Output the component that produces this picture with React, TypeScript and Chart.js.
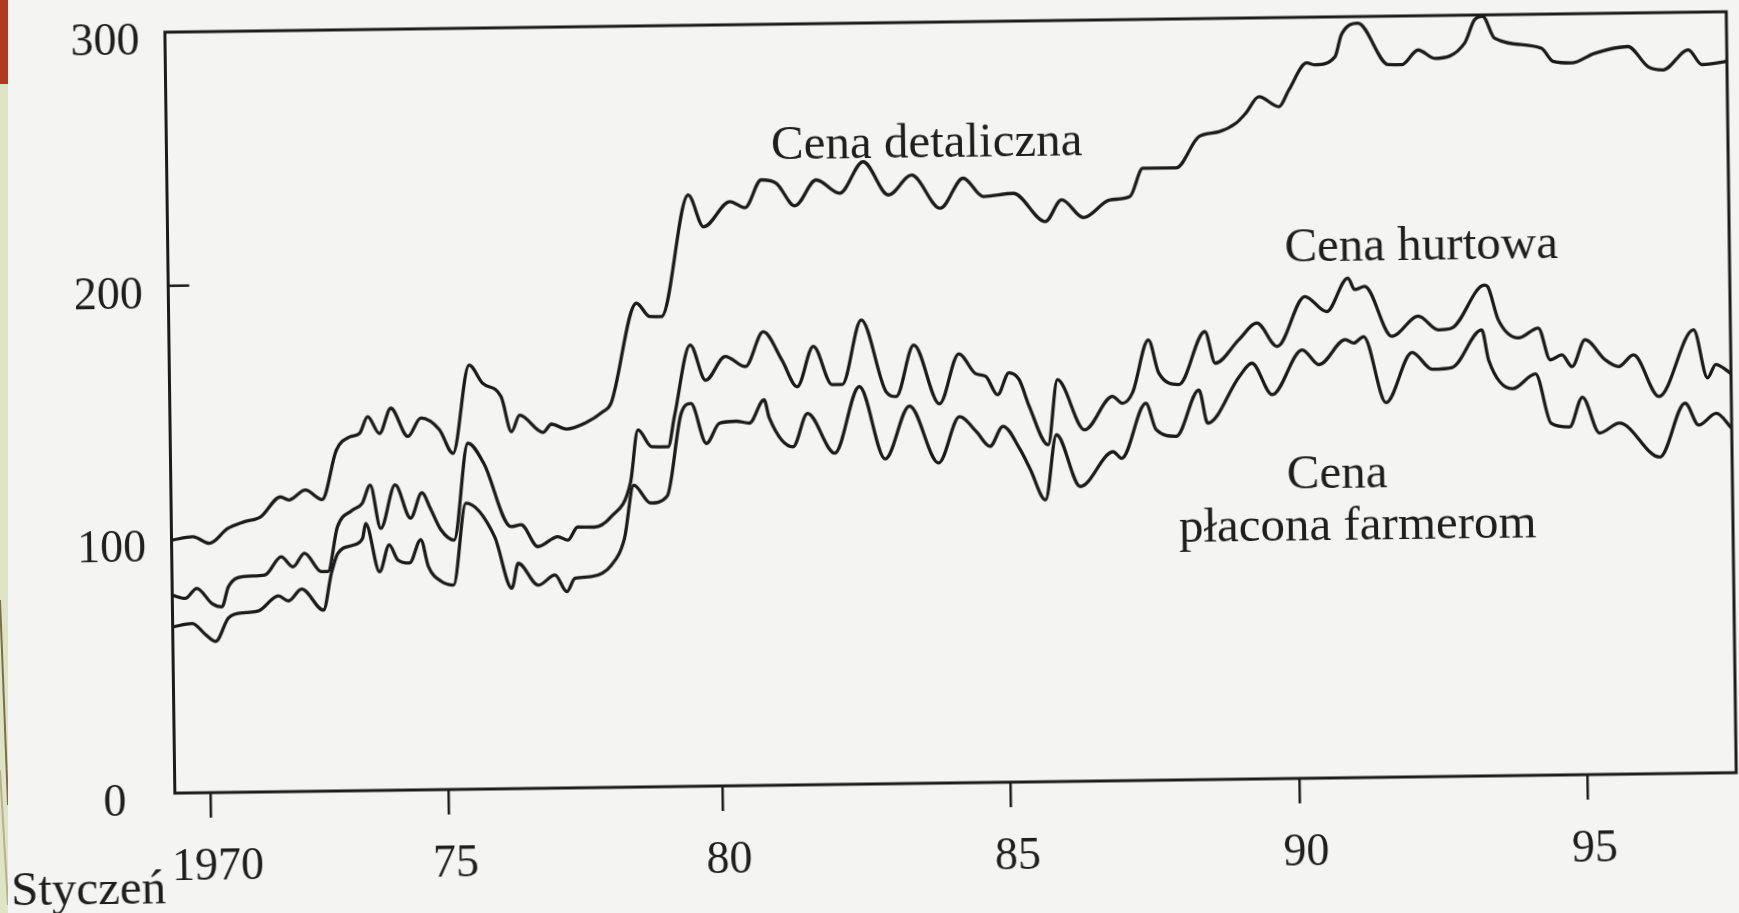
import React, { useEffect, useRef } from 'react';
import { Chart, registerables } from 'chart.js';

Chart.register(...registerables);

// ---- Data ----
const retailYears = [
  1969.70, 1970.08, 1970.38, 1970.71, 1971.01, 1971.31, 1971.67, 1971.82, 1972.12, 1972.42,
  1972.69, 1972.93, 1973.11, 1973.26, 1973.47, 1973.68, 1973.98, 1974.22, 1974.55, 1974.79,
  1975.10, 1975.34, 1975.67, 1975.85, 1976.00, 1976.42, 1976.57, 1976.84, 1977.20, 1977.50,
  1977.65, 1978.13, 1978.37, 1978.58, 1979.09, 1979.36, 1979.84, 1980.11, 1980.41, 1980.68,
  1981.01, 1981.40, 1981.82, 1982.25, 1982.70, 1983.12, 1983.63, 1984.05, 1984.41, 1984.95,
  1985.52, 1985.82, 1986.21, 1986.69, 1987.05, 1987.29, 1987.89, 1988.31, 1988.67, 1988.98,
  1989.16, 1989.40, 1989.76, 1989.94, 1990.27, 1990.42, 1990.78, 1990.90, 1991.20, 1991.74,
  1991.98, 1992.28, 1992.58, 1993.12, 1993.30, 1993.45, 1993.66, 1994.50, 1994.71, 1995.04,
  1995.46, 1996.06, 1996.42, 1996.69, 1997.15, 1997.39, 1997.84,
];
const retailValues = [
  99.7, 101, 98.3, 104, 106.6, 108.5, 116.2, 115, 118.8, 115,
  134.4, 139.5, 140.8, 147.4, 140.7, 150.6, 139.4, 146.6, 141.9, 132.5,
  167.2, 160, 154.6, 140.7, 147.2, 140.3, 143.5, 141.5, 144, 148.1,
  151.4, 190.7, 185.4, 185.3, 233.1, 220.5, 230.3, 227.8, 238.7, 237.3,
  228.3, 238.4, 233.0, 245.3, 232.1, 239.8, 226.6, 238.3, 231.0, 232.1,
  220.8, 229.3, 222.2, 229.0, 230.2, 241.3, 241.3, 253.5, 255.3, 258.6,
  262.5, 268.9, 264.9, 271.4, 282, 281.2, 284.3, 292.9, 297.4, 280.9,
  280.8, 286.5, 283.1, 289, 298, 299.5, 290.8, 286.6, 281.3, 280.6,
  284.3, 286.8, 278.8, 277.4, 285.2, 279.3, 280.4,
];

const wholesaleYears = [
  1969.70, 1969.93, 1970.14, 1970.41, 1970.59, 1970.71, 1970.98, 1971.37, 1971.67, 1971.88,
  1972.09, 1972.39, 1972.51, 1972.69, 1972.96, 1973.14, 1973.29, 1973.47, 1973.74, 1974.01,
  1974.22, 1974.37, 1974.55, 1974.79, 1975.06, 1975.34, 1975.82, 1976.00, 1976.30, 1976.66,
  1976.84, 1977.02, 1977.32, 1977.62, 1977.98, 1978.13, 1978.37, 1978.67, 1978.79, 1979.09,
  1979.36, 1979.72, 1980.08, 1980.41, 1980.74, 1981.01, 1981.31, 1981.64, 1981.82, 1982.18,
  1982.61, 1982.79, 1983.12, 1983.57, 1983.93, 1984.23, 1984.41, 1984.62, 1984.83, 1985.01,
  1985.19, 1985.52, 1985.70, 1986.18, 1986.69, 1986.87, 1987.05, 1987.35, 1987.53, 1987.89,
  1988.37, 1988.55, 1988.98, 1989.31, 1989.67, 1990.18, 1990.57, 1990.96, 1991.08, 1991.26,
  1991.74, 1992.22, 1992.58, 1992.82, 1993.42, 1993.48, 1993.66, 1994.02, 1994.38, 1994.59,
  1994.80, 1994.98, 1995.22, 1995.58, 1995.82, 1996.09, 1996.54, 1997.18, 1997.42, 1997.57,
  1997.84,
];
const wholesaleValues = [
  78, 76.7, 80.6, 74.6, 73.2, 81, 85, 85.5, 92.6, 88.6,
  93.9, 86.6, 86.6, 104.1, 110.6, 113.2, 120.4, 103.3, 120.4, 107.2,
  117.1, 110.9, 102.6, 98.3, 136.4, 128.5, 103.3, 104, 95.3, 99.1,
  97.7, 102.8, 102.7, 106.6, 119.8, 140.8, 134.1, 134, 145.9, 174,
  160, 169.3, 165.2, 178.8, 167.6, 157, 172.8, 157.6, 157.6, 183,
  154.6, 152.6, 172.8, 149.5, 169.1, 161.2, 160.1, 152.8, 161.4, 158.7,
  147.9, 132.8, 158.4, 138.5, 151.5, 148.8, 152.8, 173.6, 160.5, 155.9,
  176.6, 164.1, 173.2, 179.7, 170.4, 189.9, 183.9, 197, 192.4, 193.6,
  173.8, 181.6, 176.1, 176.7, 193.5, 192.8, 179.8, 172.5, 176.3, 163.7,
  165.6, 160.9, 171.4, 163.4, 160.7, 165.2, 148.7, 174.8, 155.8, 161,
  157.5,
];

const farmerYears = [
  1969.70, 1970.05, 1970.29, 1970.47, 1970.71, 1971.01, 1971.25, 1971.61, 1971.79, 1972.03,
  1972.42, 1972.57, 1972.69, 1972.96, 1973.14, 1973.20, 1973.44, 1973.62, 1973.77, 1973.98,
  1974.19, 1974.32, 1974.55, 1974.77, 1975.01, 1975.52, 1975.82, 1975.94, 1976.30, 1976.60,
  1976.81, 1976.96, 1977.26, 1977.62, 1977.86, 1978.04, 1978.34, 1978.64, 1978.91, 1979.09,
  1979.36, 1979.60, 1979.90, 1980.14, 1980.41, 1980.50, 1980.92, 1981.19, 1981.67, 1982.13,
  1982.58, 1983.03, 1983.54, 1983.93, 1984.23, 1984.47, 1984.71, 1985.01, 1985.19, 1985.46,
  1985.67, 1986.09, 1986.69, 1986.84, 1987.29, 1987.47, 1987.83, 1988.25, 1988.40, 1988.98,
  1989.21, 1989.57, 1990.12, 1990.42, 1990.90, 1991.05, 1991.23, 1991.62, 1992.10, 1992.46,
  1992.82, 1993.36, 1993.48, 1993.90, 1994.32, 1994.59, 1994.92, 1995.16, 1995.46, 1995.82,
  1996.54, 1997.01, 1997.25, 1997.57, 1997.84,
];
const farmerValues = [
  65.5, 66.8, 62.3, 59.6, 68.9, 70.8, 71.4, 77.2, 75.2, 79.8,
  71.4, 85.8, 93.6, 96.8, 99.4, 105.3, 86.2, 96.7, 90.8, 89.5,
  98.6, 88.1, 82.1, 80.6, 112.8, 99.5, 79, 88.8, 80.1, 84,
  77.4, 82.6, 83.2, 87.6, 98, 119, 111.9, 114.5, 146.9, 150.9,
  135.1, 143.0, 143.7, 142.9, 152.0, 144.8, 133.3, 146.4, 130.6, 156.7,
  128.1, 148.8, 126.2, 144.3, 138.3, 132.5, 140.3, 131.2, 123.3, 111.1,
  136.7, 116.2, 129.7, 127.1, 148.7, 138.2, 135.5, 153.6, 140.5, 158.7,
  163.9, 151.4, 168.9, 163, 172.7, 171.3, 173.8, 147.7, 167.3, 160.6,
  161.2, 175.9, 163.8, 152.5, 158.2, 138.7, 137.1, 148.8, 134.6, 138.4,
  124.8, 145.9, 137.2, 141.8, 135.9,
];

const seriesNames = ['Cena detaliczna', 'Cena hurtowa', 'Cena płacona farmerom'];

// where the printed axis puts its year ticks (on the drawn time axis)
const xTickPositions = [1970.35, 1974.64, 1979.57, 1984.77, 1989.97, 1995.17];
const xTickLabels = ['1970', '75', '80', '85', '90', '95'];
const yTickValues = [0, 100, 200, 300];
const yTickLabels = ['0\u2002', '100', '200', '300'];
const yInnerTickValues = [200];
const xAxisNote = 'Styczeń';

// Text labels placed in data coordinates (x = year, y = value at text baseline)
const lineLabels = [
  { text: 'Cena detaliczna', x: 1983.4, y: 246.8 },
  { text: 'Cena hurtowa', x: 1992.29, y: 203.7 },
  { text: 'Cena', x: 1990.72, y: 114.3 },
  { text: 'płacona farmerom', x: 1991.08, y: 93.8 },
];

const INK = '#1b1b1b';
const FONT_FAMILY = '"Liberation Serif", "Times New Roman", Times, serif';

const toPoints = (xs: number[], ys: number[]) => xs.map((x, i) => ({ x, y: ys[i] }));

const framePlugin = {
  id: 'frameAndText',
  afterDraw(chart: any) {
    const { ctx, chartArea, scales } = chart;
    const { left, right, top, bottom } = chartArea;
    ctx.save();
    ctx.strokeStyle = INK;
    ctx.lineWidth = 3;
    ctx.strokeRect(left, top, right - left, bottom - top);
    ctx.lineWidth = 2.5;
    yInnerTickValues.forEach((v) => {
      const y = scales.y.getPixelForValue(v);
      ctx.beginPath();
      ctx.moveTo(left, y);
      ctx.lineTo(left + 21, y);
      ctx.stroke();
    });
    ctx.fillStyle = '#1e1e1e';
    ctx.font = `49px ${FONT_FAMILY}`;
    ctx.textAlign = 'center';
    ctx.textBaseline = 'alphabetic';
    lineLabels.forEach((l) => {
      ctx.fillText(l.text, scales.x.getPixelForValue(l.x), scales.y.getPixelForValue(l.y));
    });
    ctx.textAlign = 'right';
    ctx.fillText(xAxisNote, left - 10, bottom + 110);
    ctx.restore();
  },
};

export default function App() {
  const canvasRef = useRef<HTMLCanvasElement | null>(null);

  useEffect(() => {
    if (!canvasRef.current) return;
    const lineStyle = {
      borderColor: INK,
      borderWidth: 3.3,
      pointRadius: 0,
      fill: false,
      cubicInterpolationMode: 'monotone' as const,
    };
    const chart = new Chart(canvasRef.current, {
      type: 'line',
      data: {
        datasets: [
          { label: seriesNames[0], data: toPoints(retailYears, retailValues), ...lineStyle },
          { label: seriesNames[1], data: toPoints(wholesaleYears, wholesaleValues), ...lineStyle },
          { label: seriesNames[2], data: toPoints(farmerYears, farmerValues), ...lineStyle },
        ],
      },
      options: {
        responsive: false,
        animation: false,
        events: [],
        layout: { padding: { top: 23, right: 7, left: 0, bottom: 0 } },
        plugins: {
          legend: { display: false },
          tooltip: { enabled: false },
        },
        scales: {
          x: {
            type: 'linear',
            min: 1969.697,
            max: 1997.843,
            afterBuildTicks: (s: any) => {
              s.ticks = xTickPositions.map((v) => ({ value: v }));
            },
            afterFit: (s: any) => {
              s.height = 129;
              s.paddingLeft = 0;
              s.paddingRight = 0;
            },
            grid: {
              display: true,
              drawOnChartArea: false,
              drawTicks: true,
              tickLength: 25,
              color: INK,
              lineWidth: 2.5,
            },
            border: { display: false },
            ticks: {
              autoSkip: false,
              maxRotation: 0,
              padding: 22,
              labelOffset: 6,
              color: '#1e1e1e',
              font: { family: FONT_FAMILY, size: 46 },
              callback: (v: any) => {
                const i = xTickPositions.indexOf(Number(v));
                return i >= 0 ? xTickLabels[i] : '';
              },
            },
          },
          y: {
            type: 'linear',
            min: 0,
            max: 300,
            afterBuildTicks: (s: any) => {
              s.ticks = yTickValues.map((v) => ({ value: v }));
            },
            afterFit: (s: any) => {
              s.width = 170.5;
              s.paddingTop = 0;
              s.paddingBottom = 0;
            },
            grid: { display: false, drawTicks: false },
            border: { display: false },
            ticks: {
              padding: 25.5,
              labelOffset: 10,
              color: '#1e1e1e',
              font: { family: FONT_FAMILY, size: 46 },
              callback: (v: any) => {
                const i = yTickValues.indexOf(Number(v));
                return i >= 0 ? yTickLabels[i] : '';
              },
            },
          },
        },
      },
      plugins: [framePlugin],
    } as any);
    return () => chart.destroy();
  }, []);

  return (
    <div
      style={{
        position: 'fixed',
        left: 0,
        top: 0,
        width: 1739,
        height: 913,
        background: '#f4f4f2',
        overflow: 'hidden',
      }}
    >
      <div style={{ position: 'absolute', left: 0, top: 0, width: 8, height: 913, background: '#e0e4c6' }} />
      <div style={{ position: 'absolute', left: 0, top: 0, width: 8, height: 84, background: '#b3391f' }} />
      <svg width={8} height={913} style={{ position: 'absolute', left: 0, top: 0 }}>
        <line x1={0} y1={600} x2={8} y2={805} stroke="#7d6e48" strokeWidth={2} />
        <line x1={0} y1={770} x2={8} y2={905} stroke="#b8b28c" strokeWidth={2} />
      </svg>
      <canvas
        ref={canvasRef}
        width={1739}
        height={913}
        style={{
          position: 'absolute',
          left: 0,
          top: 0,
          width: 1739,
          height: 913,
          transform: 'rotate(-0.75deg)',
          transformOrigin: '50% 50%',
        }}
      />
    </div>
  );
}
